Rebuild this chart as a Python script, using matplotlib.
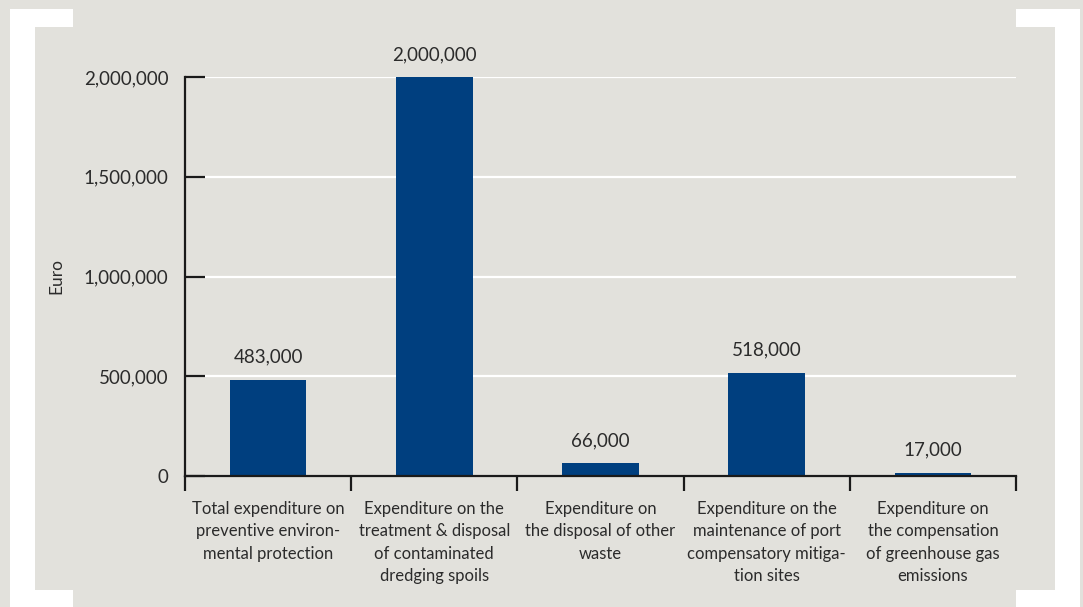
import matplotlib
matplotlib.use("Agg")
import matplotlib.pyplot as plt
from matplotlib.patches import Rectangle
from matplotlib.ticker import FuncFormatter, FixedLocator

categories = [
    "Total expenditure on\npreventive environ-\nmental protection",
    "Expenditure on the\ntreatment & disposal\nof contaminated\ndredging spoils",
    "Expenditure on\nthe disposal of other\nwaste",
    "Expenditure on the\nmaintenance of port\ncompensatory mitiga-\ntion sites",
    "Expenditure on\nthe compensation\nof greenhouse gas\nemissions",
]
values = [483000, 2000000, 66000, 518000, 17000]
value_labels = ["483,000", "2,000,000", "66,000", "518,000", "17,000"]
y_ticks = [0, 500000, 1000000, 1500000, 2000000]
y_label = "Euro"

BG = "#e2e1dc"
BAR = "#003f7f"
TXT = "#2b2b2b"

plt.rcParams['font.family'] = ['Lato', 'DejaVu Sans']

W, H = 1083, 607
fig = plt.figure(figsize=(W / 100, H / 100), dpi=100)
fig.patch.set_facecolor(BG)

def px_rect(x0, y0, x1, y1):
    fig.patches.append(Rectangle((x0 / W, 1 - y1 / H), (x1 - x0) / W, (y1 - y0) / H,
                                 transform=fig.transFigure, facecolor="white",
                                 edgecolor="none", zorder=0))

# white bracket frame
px_rect(10, 9, 35, 607)
px_rect(10, 9, 73, 27)
px_rect(10, 590, 73, 607)
px_rect(1055, 9, 1080, 607)
px_rect(1016, 9, 1080, 27)
px_rect(1016, 590, 1080, 607)

ax = fig.add_axes([185 / W, 1 - 476 / H, (1016 - 185) / W, (476 - 77) / H])
ax.set_facecolor("none")

x = list(range(len(values)))
ax.bar(x, values, width=0.46, color=BAR, zorder=3)
ax.set_xlim(-0.5, len(values) - 0.5)
ax.set_ylim(0, 2000000)

for s in ["top", "right"]:
    ax.spines[s].set_visible(False)
for s in ["left", "bottom"]:
    ax.spines[s].set_color("#1a1a1a")
    ax.spines[s].set_linewidth(1.6)
    ax.spines[s].set_zorder(5)

ax.yaxis.set_major_locator(FixedLocator(y_ticks))
ax.yaxis.set_major_formatter(FuncFormatter(lambda v, p: f"{int(v):,}"))
ax.tick_params(axis="y", direction="in", length=14.5, width=1.6, color="#1a1a1a",
               labelsize=13.5, labelcolor=TXT, pad=12)
for t in ax.yaxis.get_major_ticks():
    t.tick1line.set_zorder(6)

ax.grid(axis="y", color="white", linewidth=1.6, zorder=1)
ax.set_axisbelow(True)

# x ticks at category boundaries, labels at centers
ax.xaxis.set_major_locator(FixedLocator([i - 0.5 for i in range(len(values) + 1)]))
ax.xaxis.set_major_formatter(FuncFormatter(lambda v, p: ""))
ax.tick_params(axis="x", which="major", direction="out", length=10.5, width=1.6,
               color="#1a1a1a")
ax.set_xticks(x, minor=True)
ax.set_xticklabels(categories, minor=True, fontsize=12, color=TXT, linespacing=1.49)
ax.tick_params(axis="x", which="minor", length=0, pad=18)

ax.set_ylabel(y_label, fontsize=12.5, color=TXT, labelpad=14)

for xi, v, lab in zip(x, values, value_labels):
    ax.annotate(lab, (xi, v), xytext=(0, 10), textcoords="offset points",
                ha="center", va="bottom", fontsize=13.5, color=TXT,
                annotation_clip=False)

fig.savefig("out.png", dpi=100, facecolor=BG)
